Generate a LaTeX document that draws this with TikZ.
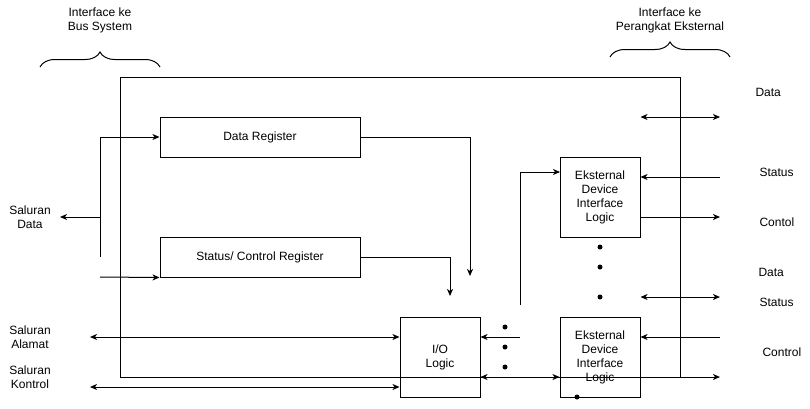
\documentclass[tikz,border=0pt]{standalone}
\usepackage{fontspec}
\setmainfont{Liberation Sans}
\usetikzlibrary{arrows.meta,positioning,decorations.pathreplacing}
\tikzstyle{arrow} = [->,>={Stealth[length=7pt,width=6pt,inset=2pt]}]
\tikzstyle{darrow} = [<->,>={Stealth[length=7pt,width=6pt,inset=2pt]}]
\tikzstyle{regbox} = [draw, minimum width=200pt, minimum height=40pt, inner sep=0pt]
\tikzstyle{logicbox} = [draw, minimum width=80pt, minimum height=80pt, inner sep=0pt, align=center]
\tikzstyle{lbl} = [align=center, inner sep=0pt]
\tikzstyle{sidelbl} = [anchor=west, inner sep=0pt]
\tikzstyle{bracket} = [decorate, decoration={brace, amplitude=15pt}]

\begin{document}
\begin{tikzpicture}[x=1pt, y=-1pt, line width=1pt, font=\fontsize{12}{14}\selectfont]
\useasboundingbox (0,0) rectangle (810,408);

% I/O module frame
\node[draw, minimum width=560pt, minimum height=300pt, inner sep=0pt] (module) at (400,227) {};

% Registers and logic blocks
\node[regbox] (datareg) at (260,137) {Data Register};
\node[regbox] (statreg) at (260,257) {Status/ Control Register};
\node[logicbox] (iologic) at (440,357) {I/O\\Logic};
\node[logicbox] (extA) at (600,197) {Eksternal\\Device\\Interface\\Logic};
\node[logicbox] (extB) at (600,357) {Eksternal\\Device\\Interface\\Logic};

% Interface headings
\node[lbl] (busif) at (100,20) {Interface ke\\Bus System};
\node[lbl] (extif) at (670,20) {Interface ke\\Perangkat Eksternal};
\draw[bracket] (40,67) -- (160,67);
\draw[bracket] (610,57) -- (730,57);

% System bus side
\node[lbl] (saldata) at (30,217) {Saluran\\Data};
\node[lbl] (salalamat) at (30,337) {Saluran\\Alamat};
\node[lbl] (salkontrol) at (30,377) {Saluran\\Kontrol};

\coordinate (bustop) at (100,137);
\coordinate (busbot) at (100,257);
\coordinate (busjoin) at (100,217);
\coordinate (dataout) at (60,217);
\coordinate (statin) at (100,277);
\coordinate (alamat) at (90,337);
\coordinate (kontrol) at (90,387);

\draw (bustop) -- (busbot);
\draw[arrow] (busjoin) -- (dataout);
\draw[arrow] (bustop) -- (datareg.west);
\draw[arrow] (statin) -- (statreg.south west);
\draw[darrow] (alamat) -- (alamat -| iologic.west);
\draw[darrow] (kontrol) -- (kontrol -| iologic.west);

% Registers to I/O logic
\coordinate (drdown) at (470,276);
\coordinate (srdown) at (450,296);
\draw[arrow] (datareg.east) -| (drdown);
\draw[arrow] (statreg.east) -| (srdown);

% I/O logic to device logic
\coordinate (iolink) at (520,305);
\coordinate (extAin) at (560,172);
\coordinate (ioin) at (520,337);
\coordinate (lowline) at (720,377);
\draw[arrow] (iolink) |- (extAin);
\draw[arrow] (ioin) -- (ioin -| iologic.east);
\draw[darrow] (lowline -| iologic.east) -- (lowline -| extB.west);
\draw[arrow] (lowline -| extB.west) -- (lowline);
\foreach \y in {327,347,367}
  \fill (505,\y) circle (2.5pt);
\foreach \y in {247,267,297}
  \fill (600,\y) circle (2.5pt);
\fill (577,397) circle (2.5pt);

% External device side
\coordinate (dataA) at (720,117);
\coordinate (statusA) at (720,177);
\coordinate (contolA) at (720,217);
\coordinate (dataB) at (720,297);
\coordinate (statusB) at (720,337);
\draw[darrow] (dataA -| extA.east) -- (dataA);
\draw[arrow] (statusA) -- (statusA -| extA.east);
\draw[arrow] (contolA -| extA.east) -- (contolA);
\draw[darrow] (dataB -| extB.east) -- (dataB);
\draw[arrow] (statusB) -- (statusB -| extB.east);

\node[sidelbl] (lblDataA) at (755,92) {Data};
\node[sidelbl] (lblStatusA) at (759,172) {Status};
\node[sidelbl] (lblContolA) at (759,222) {Contol};
\node[sidelbl] (lblDataB) at (758,272) {Data};
\node[sidelbl] (lblStatusB) at (759,302) {Status};
\node[sidelbl] (lblControlB) at (762,352) {Control};
\end{tikzpicture}
\end{document}
